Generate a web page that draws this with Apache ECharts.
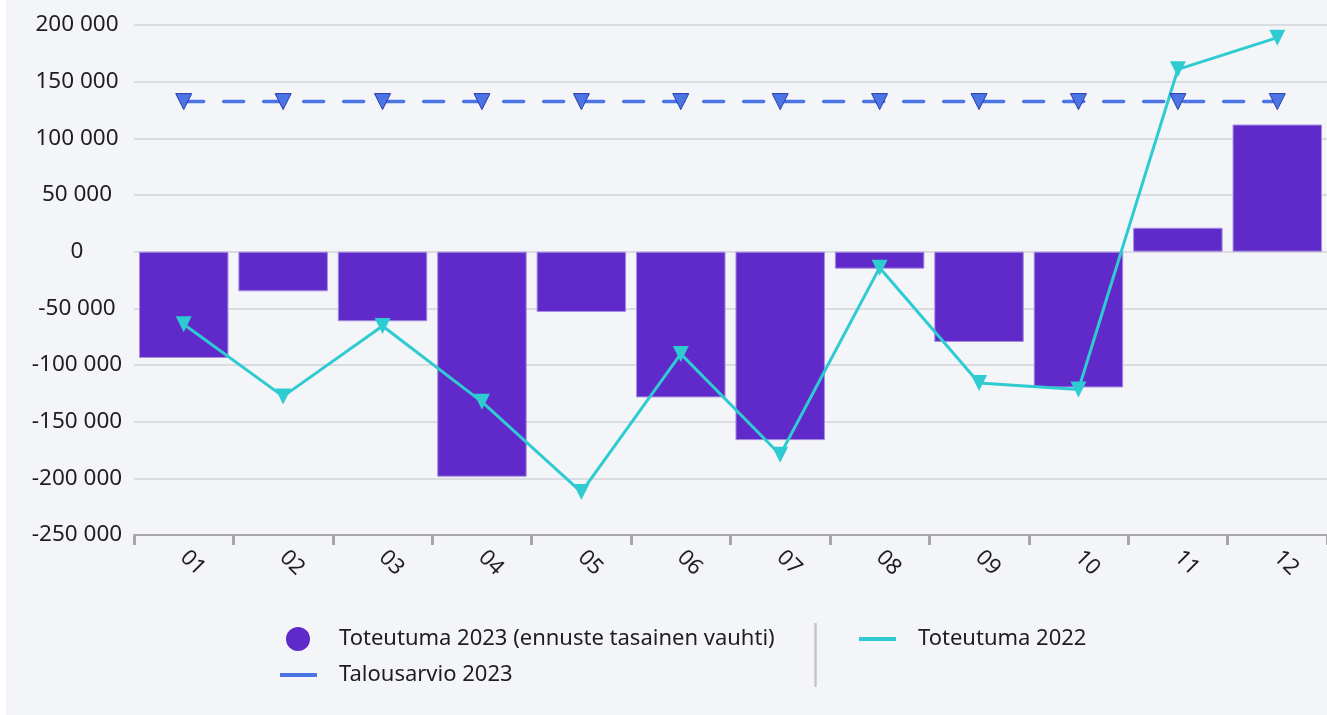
<!DOCTYPE html>
<html>
<head>
<meta charset="utf-8">
<script src="https://cdn.jsdelivr.net/npm/echarts@6/dist/echarts.min.js"></script>
<style>
  html, body { margin: 0; padding: 0; background: #ffffff; }
  #chart { position: absolute; left: 6px; top: 0; width: 1321px; height: 715px; }
</style>
</head>
<body>
<div id="chart"></div>
<script>
const months = ['01','02','03','04','05','06','07','08','09','10','11','12'];
const toteutuma2023 = [-93800, -35000, -61400, -198600, -53200, -128600, -166300, -15000, -79700, -119800, 21100, 112200];
const toteutuma2022 = [-64100, -127700, -65600, -132500, -212100, -90200, -179200, -14100, -115800, -121600, 160900, 188800];
const talousarvio2023 = [132400, 132400, 132400, 132400, 132400, 132400, 132400, 132400, 132400, 132400, 132400, 132400];
const yTicks = { min: -250000, max: 200000, interval: 50000 };
const names = {
  bar: 'Toteutuma 2023 (ennuste tasainen vauhti)',
  budget: 'Talousarvio 2023',
  prev: 'Toteutuma 2022'
};

const FONT = 'Noto Sans';
const TXT = '#1e1e1e';
const fmt = v => String(v).replace(/\B(?=(\d{3})+(?!\d))/g, ' ');

const chart = echarts.init(document.getElementById('chart'), null, { renderer: 'canvas' });
chart.setOption({
  backgroundColor: '#f4f5f9',
  animation: false,
  grid: { left: 128, right: 0, top: 25, bottom: 180 },
  legend: [
    {
      data: [{ name: names.bar, icon: 'circle' }],
      left: 280, top: 627, padding: 0,
      itemWidth: 24, itemHeight: 24,
      itemStyle: { borderWidth: 0 },
      textStyle: { fontFamily: FONT, fontSize: 22, color: TXT, padding: [0, 0, 0, 24] }
    },
    {
      data: [{ name: names.budget, icon: 'rect' }],
      left: 274, top: 664, padding: 0,
      itemWidth: 37, itemHeight: 4,
      itemStyle: { borderWidth: 0 },
      textStyle: { fontFamily: FONT, fontSize: 22, color: TXT, padding: [0, 0, 0, 17] }
    },
    {
      data: [{ name: names.prev, icon: 'rect' }],
      left: 853, top: 628, padding: 0,
      itemWidth: 37, itemHeight: 4,
      itemStyle: { borderWidth: 0 },
      textStyle: { fontFamily: FONT, fontSize: 22, color: TXT, padding: [0, 0, 0, 17] }
    }
  ],
  graphic: [
    {
      type: 'line', silent: true,
      shape: { x1: 809.5, y1: 623, x2: 809.5, y2: 687 },
      style: { stroke: '#c6c6c8', lineWidth: 2.5 }
    }
  ],
  xAxis: {
    type: 'category',
    data: months,
    boundaryGap: true,
    axisLine: { show: true, onZero: false, lineStyle: { color: '#a6a6aa', width: 2 } },
    axisTick: { show: true, alignWithLabel: false, length: 10, lineStyle: { color: '#a6a6aa', width: 3 } },
    axisLabel: { rotate: -45, margin: 19, fontFamily: FONT, fontSize: 22, color: TXT },
    splitLine: { show: false }
  },
  yAxis: {
    type: 'value',
    min: yTicks.min, max: yTicks.max, interval: yTicks.interval,
    axisLine: { show: false },
    axisTick: { show: false },
    axisLabel: { align: 'center', margin: 57, fontFamily: FONT, fontSize: 22.5, color: TXT, formatter: fmt },
    splitLine: { show: true, lineStyle: { color: '#d3d3d8', width: 1.5 } }
  },
  series: [
    {
      name: names.bar,
      type: 'bar',
      data: toteutuma2023,
      barCategoryGap: '10%',
      itemStyle: { color: '#6029c9', borderColor: '#a58ee0', borderWidth: 1 },
      z: 2
    },
    {
      name: names.prev,
      type: 'line',
      data: toteutuma2022,
      symbol: 'triangle',
      symbolRotate: 180,
      symbolSize: 16,
      showAllSymbol: true,
      itemStyle: { color: '#2ecbd1' },
      lineStyle: { color: '#2ecbd1', width: 3 },
      z: 3
    },
    {
      name: names.budget,
      type: 'line',
      data: talousarvio2023,
      symbol: 'triangle',
      symbolRotate: 180,
      symbolSize: 16,
      showAllSymbol: true,
      itemStyle: { color: '#4b74e4', borderColor: '#2b3aa8', borderWidth: 1 },
      lineStyle: { color: '#4b74e4', width: 3.5, type: [20, 20], cap: 'round' },
      z: 4
    }
  ]
});
</script>
</body>
</html>
